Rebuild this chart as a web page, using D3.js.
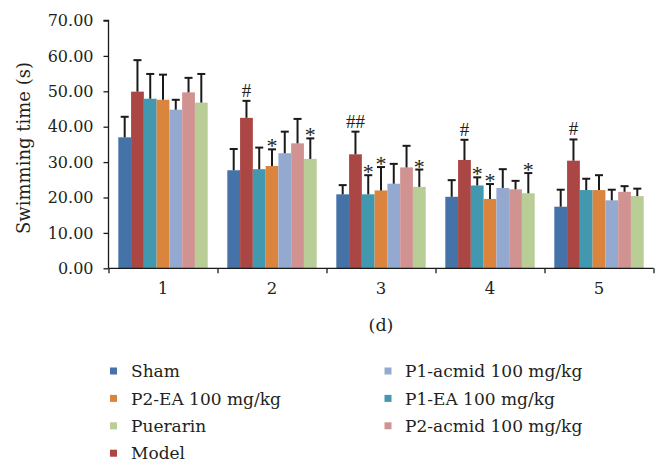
<!DOCTYPE html>
<html>
<head>
<meta charset="utf-8">
<script src="https://cdn.jsdelivr.net/npm/d3@7"></script>
<style>
  html, body { margin: 0; padding: 0; background: #fff; }
  svg { display: block; }
</style>
</head>
<body>
<svg id="chart" width="668" height="475"></svg>
<script>
// ---- data ----
const days = ["1", "2", "3", "4", "5"];
const seriesNames = ["Sham", "Model", "P1-EA 100 mg/kg", "P2-EA 100 mg/kg", "P1-acmid 100 mg/kg", "P2-acmid 100 mg/kg", "Puerarin"];
const seriesColors = ["#4572a7", "#aa4643", "#4198af", "#db843d", "#93a9d0", "#d09392", "#b9cd97"];
// means per series (order of days)
const sham      = [37.0, 27.7, 20.9, 20.2, 17.4];
const model     = [49.9, 42.5, 32.2, 30.6, 30.4];
const p1ea      = [47.9, 28.0, 20.9, 23.4, 22.1];
const p2ea      = [47.6, 28.9, 22.0, 19.6, 22.1];
const p1acmid   = [44.8, 32.5, 23.9, 22.7, 19.2];
const p2acmid   = [49.7, 35.3, 28.5, 22.3, 21.6];
const puerarin  = [46.8, 30.9, 23.0, 21.2, 20.4];
// SD (upper error bar length)
const shamSD     = [5.8, 6.0, 2.6, 4.7, 4.8];
const modelSD    = [8.9, 4.8, 6.4, 5.7, 6.0];
const p1eaSD     = [7.0, 6.1, 5.4, 2.3, 3.2];
const p2eaSD     = [7.1, 4.7, 6.6, 4.2, 4.2];
const p1acmidSD  = [2.8, 6.1, 5.6, 5.3, 3.0];
const p2acmidSD  = [4.1, 6.9, 6.1, 2.4, 1.6];
const puerarinSD = [8.1, 5.8, 4.9, 5.7, 2.1];
// significance marks per series per day
const shamSig     = ["", "", "", "", ""];
const modelSig    = ["", "#", "##", "#", "#"];
const p1eaSig     = ["", "", "*", "*", ""];
const p2eaSig     = ["", "*", "*", "*", ""];
const p1acmidSig  = ["", "", "", "", ""];
const p2acmidSig  = ["", "", "", "", ""];
const puerarinSig = ["", "*", "*", "*", ""];
const yTicks = [0, 10, 20, 30, 40, 50, 60, 70];
const yTitle = "Swimming time (s)";
const xTitle = "(d)";
// legend layout order: column 1 then column 2
const legendCol1 = ["Sham", "P2-EA 100 mg/kg", "Puerarin", "Model"];
const legendCol2 = ["P1-acmid 100 mg/kg", "P1-EA 100 mg/kg", "P2-acmid 100 mg/kg"];

const means = [sham, model, p1ea, p2ea, p1acmid, p2acmid, puerarin];
const sds = [shamSD, modelSD, p1eaSD, p2eaSD, p1acmidSD, p2acmidSD, puerarinSD];
const sigs = [shamSig, modelSig, p1eaSig, p2eaSig, p1acmidSig, p2acmidSig, puerarinSig];

const rows = [];
seriesNames.forEach((s, si) => {
  days.forEach((d, di) => {
    rows.push({ series: s, day: d, mean: means[si][di], sd: sds[si][di], sig: sigs[si][di] });
  });
});

// ---- layout ----
const svg = d3.select("#chart");
const textColor = "#231f20";
const serif = "'DejaVu Serif', serif";
const pLeft = 108.5, pRight = 653.5, pTop = 20.5, pBottom = 268.3;

const y = d3.scaleLinear().domain([0, 70]).range([pBottom, pTop]);
const x0 = d3.scaleBand().domain(days).range([pLeft, pRight]).padding(0);
const bw = x0.bandwidth();
const x1 = d3.scaleBand().domain(seriesNames).range([bw * 0.09, bw * 0.91]).padding(0);
const color = d3.scaleOrdinal().domain(seriesNames).range(seriesColors);
const cx = d => x0(d.day) + x1(d.series) + x1.bandwidth() / 2;

// bars
const g = svg.append("g");
g.selectAll("rect.bar").data(rows).join("rect")
  .attr("class", "bar")
  .attr("x", d => x0(d.day) + x1(d.series))
  .attr("width", x1.bandwidth())
  .attr("y", d => y(d.mean))
  .attr("height", d => y(0) - y(d.mean))
  .attr("fill", d => color(d.series));

// error bars
const capW = 8;
const eb = g.selectAll("g.err").data(rows).join("g").attr("class", "err");
eb.append("line")
  .attr("x1", cx).attr("x2", cx)
  .attr("y1", d => y(d.mean))
  .attr("y2", d => y(d.mean + d.sd))
  .attr("stroke", "#1a1a1a").attr("stroke-width", 2);
eb.append("line")
  .attr("x1", d => cx(d) - capW / 2)
  .attr("x2", d => cx(d) + capW / 2)
  .attr("y1", d => y(d.mean + d.sd))
  .attr("y2", d => y(d.mean + d.sd))
  .attr("stroke", "#1a1a1a").attr("stroke-width", 2);

// significance marks
g.selectAll("text.sig").data(rows.filter(d => d.sig)).join("text")
  .attr("class", "sig")
  .attr("x", cx)
  .attr("y", d => y(d.mean + d.sd) + (d.sig === "*" ? 4 : -4))
  .attr("text-anchor", "middle")
  .attr("font-family", "'Liberation Serif', serif")
  .attr("font-size", d => d.sig === "*" ? 22 : 19)
  .attr("fill", textColor)
  .text(d => d.sig);

// y axis
const yAxis = svg.append("g").attr("transform", `translate(${pLeft},0)`)
  .call(d3.axisLeft(y).tickValues(yTicks).tickFormat(d3.format(".2f")).tickSize(5).tickPadding(10));
yAxis.selectAll("path, line").attr("stroke", "#1a1a1a").attr("stroke-width", 1.3);
yAxis.select("path").attr("d", `M-5,${pTop}H0V${pBottom}`);
yAxis.selectAll("text").attr("font-family", serif).attr("font-size", 16).attr("fill", textColor);

// x axis: boundary ticks + centered labels
const xb = d3.scaleLinear().domain([0, days.length]).range([pLeft, pRight]);
const xAxisTicks = svg.append("g").attr("transform", `translate(0,${pBottom})`)
  .call(d3.axisBottom(xb).ticks(days.length).tickFormat("").tickSize(5).tickSizeOuter(5));
xAxisTicks.selectAll("path, line").attr("stroke", "#1a1a1a").attr("stroke-width", 1.3);
xAxisTicks.select("path").attr("d", `M${pLeft},0H${pRight}`);
const xAxisLabels = svg.append("g").attr("transform", `translate(0,${pBottom})`)
  .call(d3.axisBottom(x0).tickSize(0).tickPadding(14));
xAxisLabels.select("path").remove();
xAxisLabels.selectAll("text").attr("font-family", serif).attr("font-size", 16.5).attr("fill", textColor);

// axis titles
svg.append("text")
  .attr("transform", `translate(30,148) rotate(-90)`)
  .attr("text-anchor", "middle")
  .attr("font-family", serif).attr("font-size", 18).attr("fill", textColor)
  .text(yTitle);
svg.append("text")
  .attr("x", (pLeft + pRight) / 2).attr("y", 331)
  .attr("text-anchor", "middle")
  .attr("font-family", serif).attr("font-size", 17.5).attr("fill", textColor)
  .text(xTitle);

// legend
const rowH = 27.4;
function drawLegend(items, mx, tx, y0) {
  const lg = svg.append("g");
  const it = lg.selectAll("g").data(items).join("g")
    .attr("transform", (d, i) => `translate(0,${y0 + i * rowH})`);
  it.append("rect").attr("x", mx - 3.5).attr("y", -3.5).attr("width", 7).attr("height", 7)
    .attr("fill", d => color(d));
  it.append("text").attr("x", tx).attr("y", 0).attr("dy", "0.36em")
    .attr("font-family", serif).attr("font-size", 17).attr("fill", textColor)
    .text(d => d);
}
drawLegend(legendCol1, 113.5, 131, 371);
drawLegend(legendCol2, 388, 405, 371);
</script>
</body>
</html>
